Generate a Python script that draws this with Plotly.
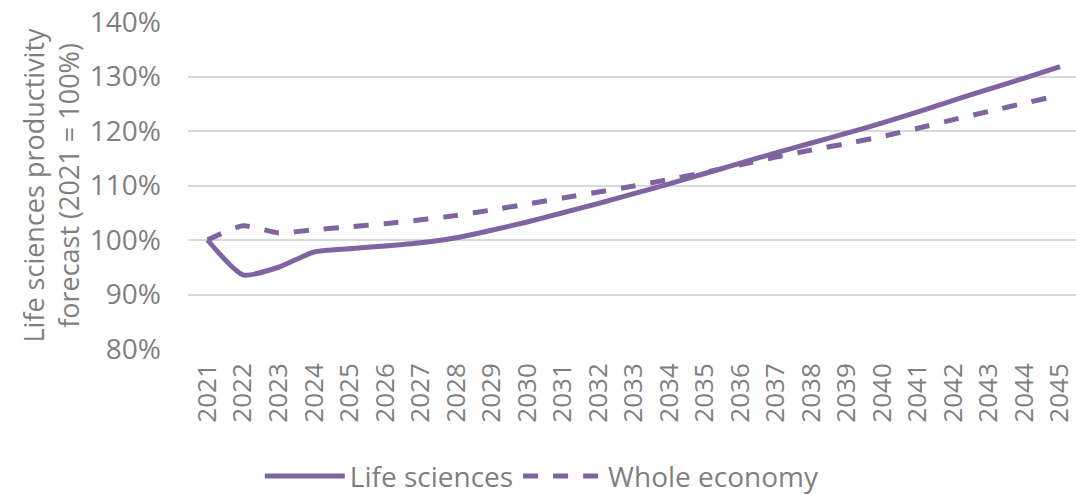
import plotly.graph_objects as go

years = list(range(2021, 2046))
life_sciences = [100.0, 93.6, 95.0, 97.8, 98.4, 98.9, 99.5, 100.4, 101.8, 103.3, 105.0, 106.7, 108.5,
                 110.3, 112.2, 114.1, 116.0, 117.8, 119.6, 121.5, 123.5, 125.6, 127.7, 129.7, 131.8]
whole_economy = [100.0, 102.6, 101.3, 101.9, 102.4, 103.0, 103.7, 104.5, 105.5, 106.6, 107.7, 108.8, 109.9,
                 111.1, 112.4, 113.8, 115.2, 116.5, 117.7, 119.0, 120.5, 122.1, 123.6, 125.1, 126.6]
y_ticks = [80, 90, 100, 110, 120, 130, 140]
y_tick_text = [f"{v}%" for v in y_ticks]

color = "#8064A2"
grey = "#7F7F7F"
font_family = "'Open Sans', Lato, sans-serif"

fig = go.Figure()
fig.add_trace(go.Scatter(x=years, y=life_sciences, mode="lines", name="Life sciences",
                         line=dict(color=color, width=5, shape="spline", smoothing=0.6)))
fig.add_trace(go.Scatter(x=years, y=whole_economy, mode="lines", name="Whole economy",
                         line=dict(color=color, width=5, dash="dash", shape="spline", smoothing=0.6)))

fig.update_layout(
    width=1076, height=494,
    margin=dict(l=188, r=0, t=22, b=145, autoexpand=False),
    paper_bgcolor="white", plot_bgcolor="white",
    font=dict(family=font_family, color=grey, size=26),
    showlegend=True,
    legend=dict(orientation="h", x=0.399, xanchor="center", xref="paper",
                y=0.036, yref="container", yanchor="middle",
                font=dict(size=28, color=grey), itemwidth=80, tracegroupgap=0),
)
fig.update_xaxes(range=[2020.45, 2045.45], tickmode="array", tickvals=years,
                 ticktext=[str(y) for y in years], tickangle=-90,
                 tickfont=dict(size=26, color=grey), showgrid=False, zeroline=False,
                 showline=False, ticks="", ticklabelstandoff=8, automargin=False,
                 ticklabeloverflow="allow")
fig.update_yaxes(range=[80, 140], tickmode="array", tickvals=y_ticks, ticktext=y_tick_text,
                 tickfont=dict(size=28, color=grey), showgrid=True, gridcolor="#D9D9D9",
                 gridwidth=1.5, zeroline=False, showline=False, ticks="", ticklabelstandoff=26,
                 automargin=False,
                 title=dict(text="Life sciences productivity<br>forecast (2021 = 100%)",
                            font=dict(size=27, color=grey), standoff=2))

fig.write_html("out.html", config={"displayModeBar": False},
               post_script="document.body.style.margin='0';")
